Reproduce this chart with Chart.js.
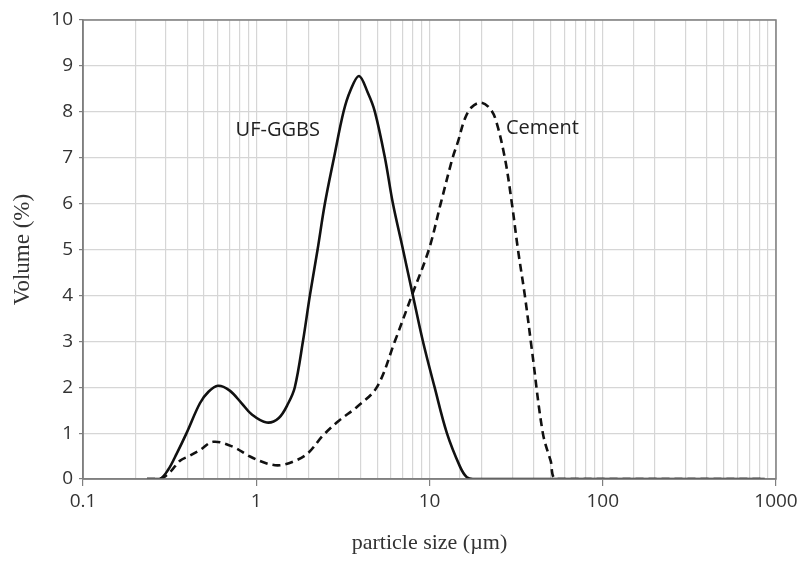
<!DOCTYPE html>
<html>
<head>
<meta charset="utf-8">
<script src="https://cdn.jsdelivr.net/npm/chart.js@4"></script>
<style>
  html, body { margin: 0; padding: 0; background: #fff; }
</style>
</head>
<body>
<canvas id="psd-chart" width="806" height="561"></canvas>
<script>
// particle size distribution
const ggbsSize = [0.234, 0.278, 0.310, 0.348, 0.396, 0.473, 0.53, 0.601, 0.70, 0.824, 0.940, 1.15, 1.35, 1.53, 1.67, 1.86, 2.04, 2.26, 2.49, 2.81, 3.19, 3.5, 3.92, 4.4, 4.84, 5.53, 6.15, 7.03, 8.02, 9.16, 10.7, 12.6, 15.0, 16.4, 17.8, 861];
const ggbsVolume = [0, 0, 0.2, 0.56, 1.0, 1.65, 1.9, 2.03, 1.93, 1.65, 1.41, 1.23, 1.33, 1.65, 2.0, 3.0, 4.0, 5.0, 6.0, 7.0, 8.0, 8.47, 8.78, 8.42, 8.0, 7.0, 6.0, 5.0, 4.0, 3.0, 2.0, 1.0, 0.27, 0.04, 0, 0];

const cementSize = [0.234, 0.278, 0.318, 0.363, 0.41, 0.473, 0.565, 0.736, 0.921, 1.15, 1.37, 1.71, 2.0, 2.43, 3.0, 3.81, 4.97, 6.31, 7.91, 9.92, 11.6, 13.6, 14.6, 16.0, 17.5, 19.8, 22.0, 24.0, 27.2, 29.9, 32.4, 35.5, 39.0, 45.1, 50.0, 54.3, 861];
const cementVolume = [0, 0, 0.15, 0.40, 0.50, 0.63, 0.81, 0.70, 0.49, 0.34, 0.30, 0.41, 0.57, 0.95, 1.27, 1.57, 2.0, 3.0, 4.0, 5.0, 6.0, 7.0, 7.35, 7.85, 8.1, 8.2, 8.1, 7.85, 7.0, 6.0, 5.0, 4.0, 2.81, 1.0, 0.4, 0, 0];

const seriesNames = ['UF-GGBS', 'Cement'];
const xMajorTicks = [0.1, 1, 10, 100, 1000];

const toPoints = (xs, ys) => xs.map((x, i) => ({ x: x, y: ys[i] }));
const isMajor = (v) => xMajorTicks.some(t => Math.abs(t - v) < t * 1e-6);

// where the two curve names sit, in data units (size, volume)
const labelAnchors = [[0.76, 7.6], [27.6, 7.65]];

const curveLabels = {
    id: 'curveLabels',
    afterDraw(chart) {
        const { ctx, chartArea: a, scales: { x, y } } = chart;
        ctx.save();
        // frame round the plot
        ctx.strokeStyle = '#7f7f7f';
        ctx.lineWidth = 1.5;
        ctx.strokeRect(a.left, a.top, a.right - a.left, a.bottom - a.top);
        ctx.font = '20px "Open Sans"';
        ctx.fillStyle = '#222';
        ctx.textBaseline = 'middle';
        labelAnchors.forEach((p, i) => {
            ctx.fillText(seriesNames[i], x.getPixelForValue(p[0]), y.getPixelForValue(p[1]));
        });
        ctx.restore();
    }
};

const ctx = document.getElementById('psd-chart').getContext('2d');

new Chart(ctx, {
    type: 'line',
    data: {
        datasets: [{
            label: seriesNames[0],
            data: toPoints(ggbsSize, ggbsVolume),
            borderColor: '#111',
            borderWidth: 2.6,
            pointRadius: 0,
            tension: 0.35
        }, {
            label: seriesNames[1],
            data: toPoints(cementSize, cementVolume),
            borderColor: '#111',
            borderWidth: 2.6,
            borderDash: [8, 5],
            pointRadius: 0,
            tension: 0.35
        }]
    },
    options: {
        responsive: false,
        animation: false,
        layout: { padding: { top: 20, right: 30, left: 0, bottom: 0 } },
        plugins: {
            legend: { display: false },
            tooltip: { enabled: false }
        },
        scales: {
            x: {
                type: 'logarithmic',
                min: 0.1,
                max: 1000,
                afterFit: (s) => { s.height = 82; },
                grid: {
                    color: '#d6d6d6',
                    lineWidth: 1.2,
                    tickLength: 7,
                    tickColor: (c) => (c.tick && isMajor(c.tick.value)) ? '#7f7f7f' : 'rgba(0,0,0,0)'
                },
                border: { color: '#7f7f7f', width: 1.5 },
                ticks: {
                    autoSkip: false,
                    maxRotation: 0,
                    padding: 4,
                    color: '#333',
                    font: { family: '"Open Sans"', size: 19 },
                    callback: (v) => isMajor(v) ? String(v) : ''
                },
                title: {
                    display: true,
                    text: 'particle size (µm)',
                    color: '#333',
                    font: { family: '"Liberation Serif"', size: 22 },
                    padding: { top: 0, bottom: 5 }
                }
            },
            y: {
                min: 0,
                max: 10,
                afterFit: (s) => { s.width = 83; },
                grid: { color: '#d6d6d6', lineWidth: 1.2, tickLength: 4, tickColor: '#7f7f7f' },
                border: { color: '#7f7f7f', width: 1.5 },
                ticks: {
                    stepSize: 1,
                    padding: 6,
                    color: '#333',
                    font: { family: '"Open Sans"', size: 19 }
                },
                title: {
                    display: true,
                    text: 'Volume (%)',
                    color: '#333',
                    font: { family: '"Liberation Serif"', size: 23 },
                    padding: { top: 9, bottom: 0 }
                }
            }
        }
    },
    plugins: [curveLabels]
});
</script>
</body>
</html>
